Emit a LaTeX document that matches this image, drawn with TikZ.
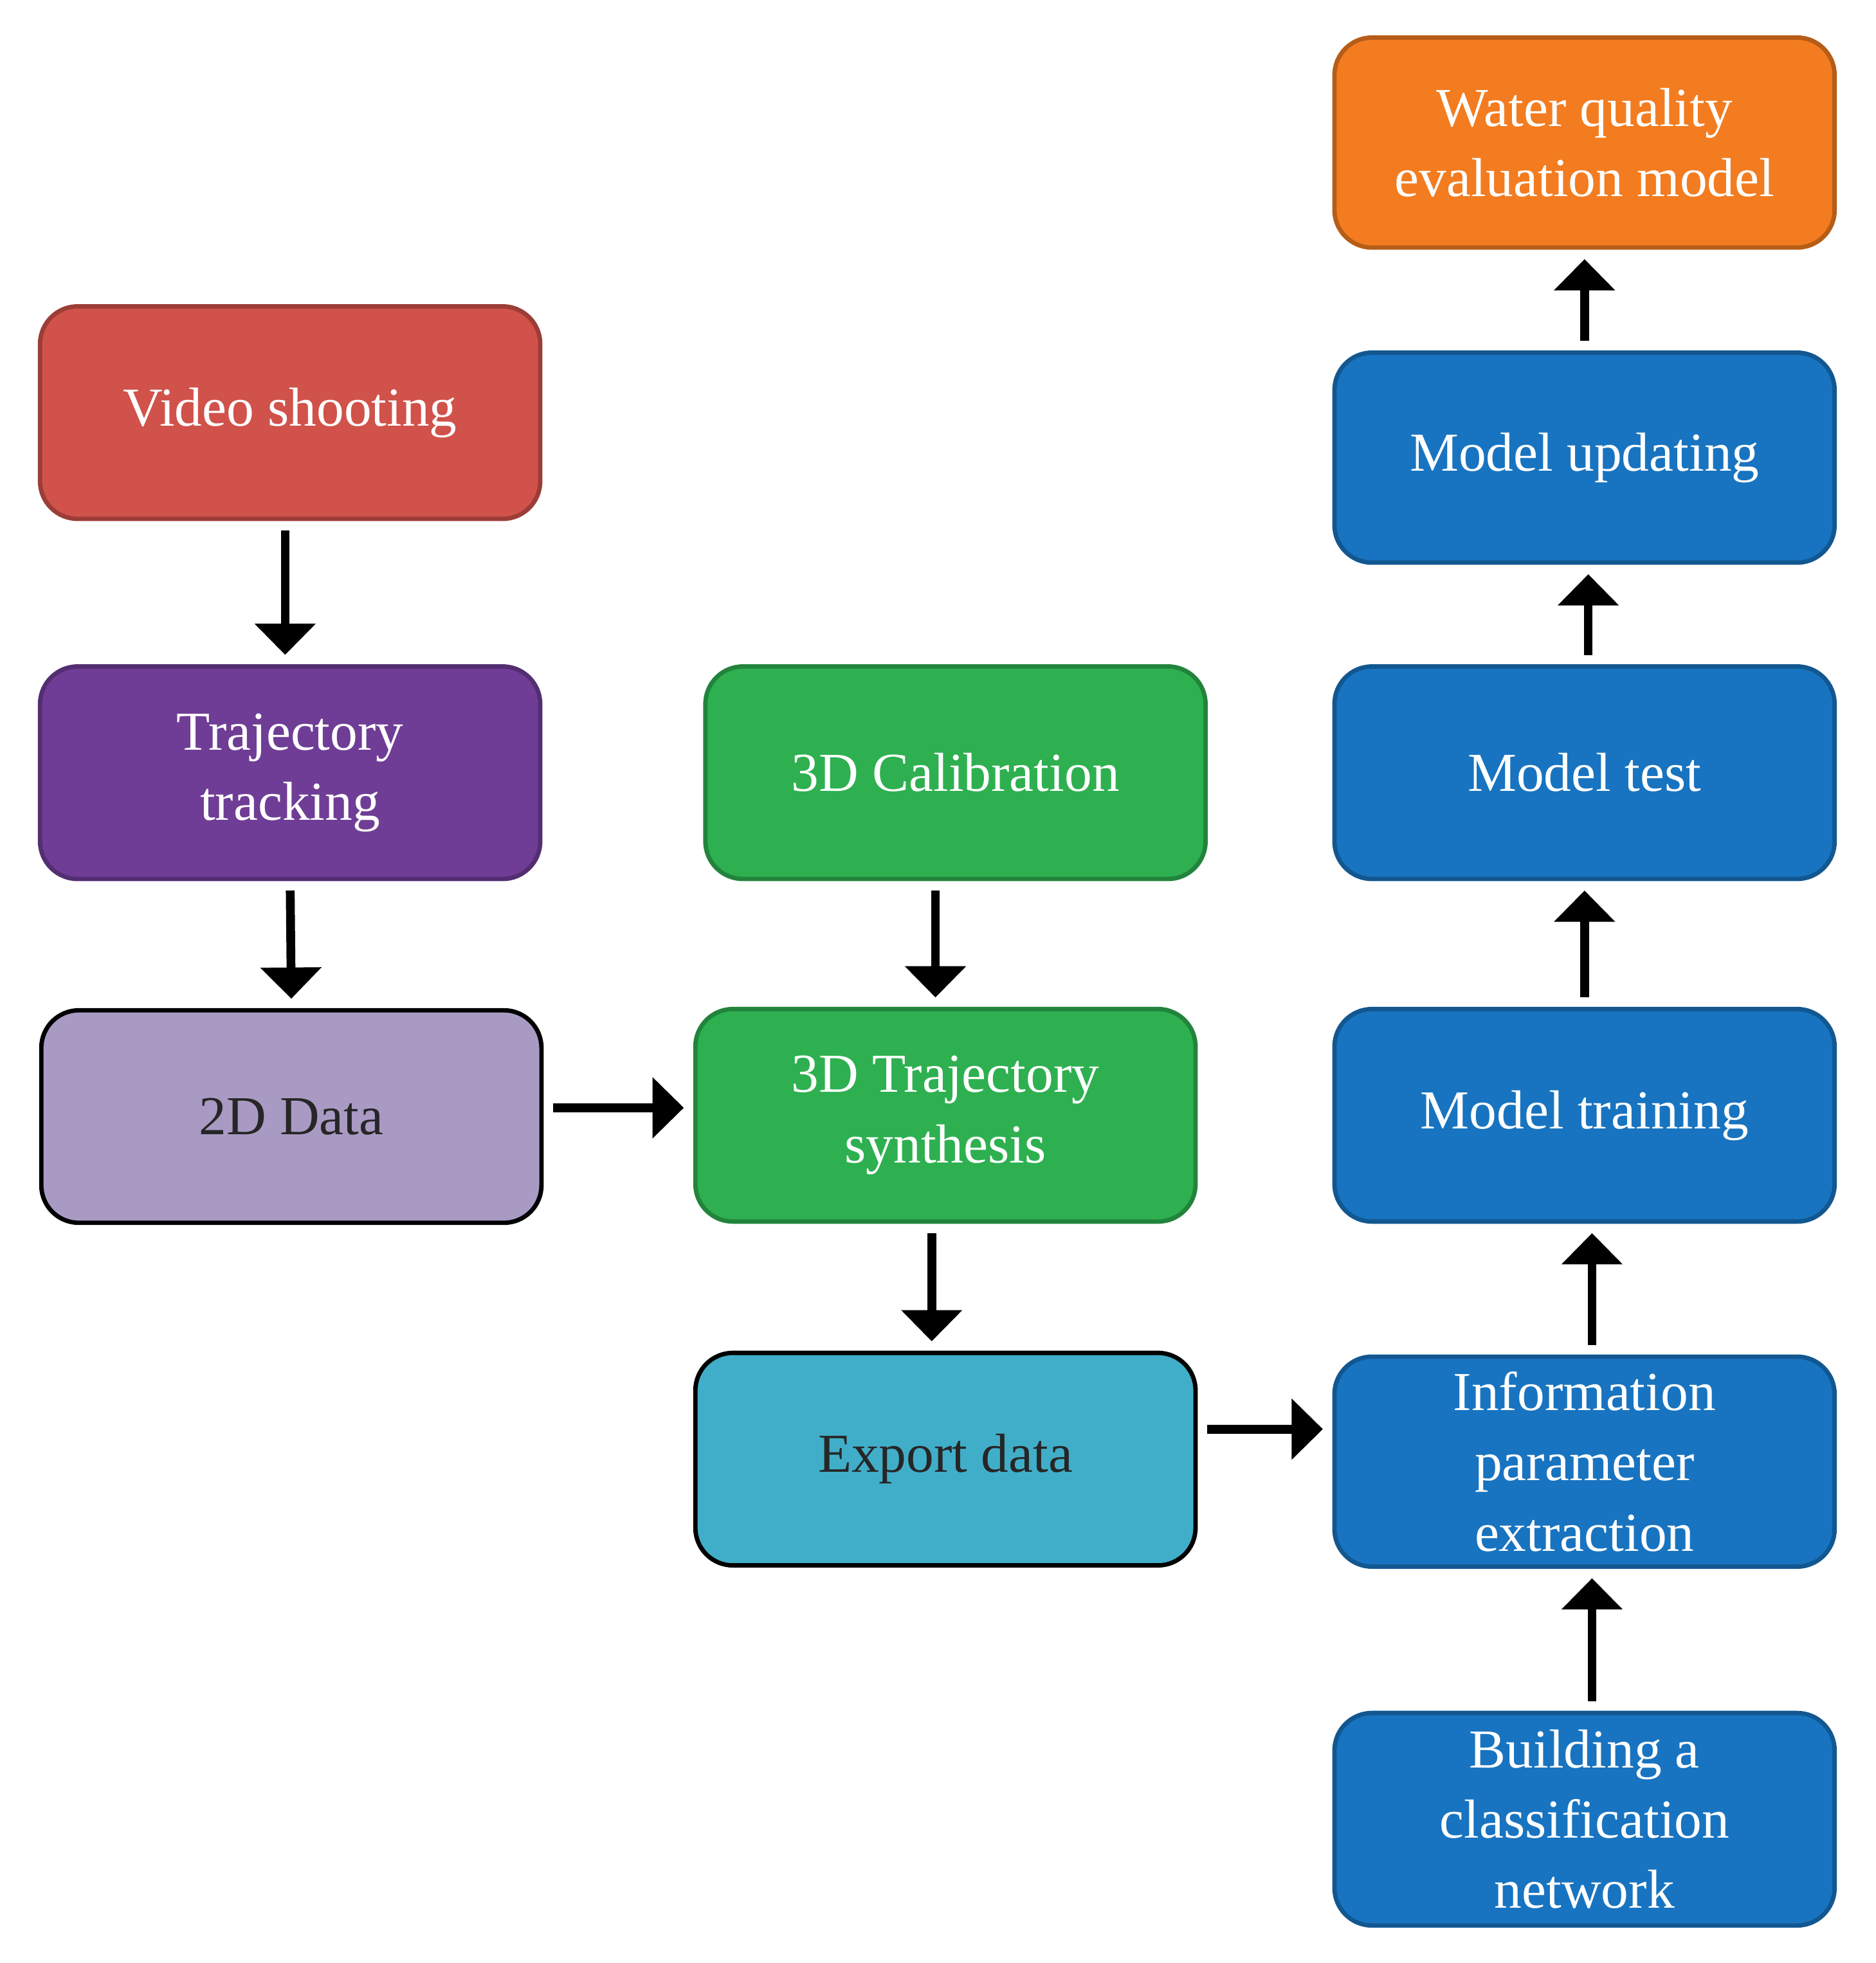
\documentclass[tikz,border=0pt]{standalone}
\usepackage{fontspec}
\setmainfont{Liberation Serif}
\usetikzlibrary{arrows.meta}
\definecolor{cred}{HTML}{D0524A}
\definecolor{cpur}{HTML}{6F3D96}
\definecolor{clpur}{HTML}{A99AC4}
\definecolor{cgreen}{HTML}{2EB050}
\definecolor{ccyan}{HTML}{41AEC9}
\definecolor{corange}{HTML}{F37C20}
\definecolor{cblue}{HTML}{1874C0}
\begin{document}
\begin{tikzpicture}[x=0.02cm,y=-0.02cm,
  box/.style={rounded corners=0.6cm,minimum width=8cm,minimum height=3.4cm,
    align=center,text=white,font=\fontsize{25}{32}\selectfont,line width=2pt,inner sep=0pt},
  sbox/.style={box,fill=#1,draw=#1!75!black},
  bbox/.style={box,fill=#1,draw=black,text=black!85},
  arr/.style={line width=4pt,-{Triangle[length=0.5cm,width=0.95cm]},shorten <=0.15cm,shorten >=0.15cm}]
\useasboundingbox (0,0) rectangle (1500,1570);
\node[sbox=cred] (vs) at (232,330) {Video shooting};
\node[sbox=cpur] (tt) at (232,618) {Trajectory\\tracking};
\node[bbox=clpur] (d2) at (233,893) {2D Data};
\node[sbox=cgreen] (cal) at (764,618) {3D Calibration};
\node[sbox=cgreen] (syn) at (756,892) {3D Trajectory\\synthesis};
\node[bbox=ccyan] (exp) at (756,1167) {Export data};
\node[sbox=corange,minimum height=3.36cm] (wq) at (1267,114) {Water quality\\evaluation model};
\node[sbox=cblue,minimum height=3.36cm] (mu) at (1267,366) {Model updating};
\node[sbox=cblue] (mt) at (1267,618) {Model test};
\node[sbox=cblue] (mtr) at (1267,892) {Model training};
\node[sbox=cblue,minimum height=3.36cm] (ip) at (1267,1169) {Information\\parameter\\extraction};
\node[sbox=cblue] (bc) at (1267,1455) {Building a\\classification\\network};
\draw[arr] (vs.south) ++(-4,0) coordinate (a1) (a1) -- (a1 |- tt.north);
\draw[arr] (tt.south) -- (d2.north);
\draw[arr] (cal.south) ++(-16,0) coordinate (a2) (a2) -- (a2 |- syn.north);
\draw[arr] (syn.south) ++(-11,0) coordinate (a3) (a3) -- (a3 |- exp.north);
\draw[arr] (d2.east) ++(0,-7) coordinate (a4) (a4) -- (a4 -| syn.west);
\draw[arr] (exp.east) ++(0,-24) coordinate (a5) (a5) -- (a5 -| ip.west);
\draw[arr] (bc.north) ++(6,0) coordinate (a6) (a6) -- (a6 |- ip.south);
\draw[arr] (ip.north) ++(6,0) coordinate (a7) (a7) -- (a7 |- mtr.south);
\draw[arr] (mtr.north) -- (mt.south);
\draw[arr] (mt.north) ++(3,0) coordinate (a8) (a8) -- (a8 |- mu.south);
\draw[arr] (mu.north) -- (wq.south);
\end{tikzpicture}
\end{document}
